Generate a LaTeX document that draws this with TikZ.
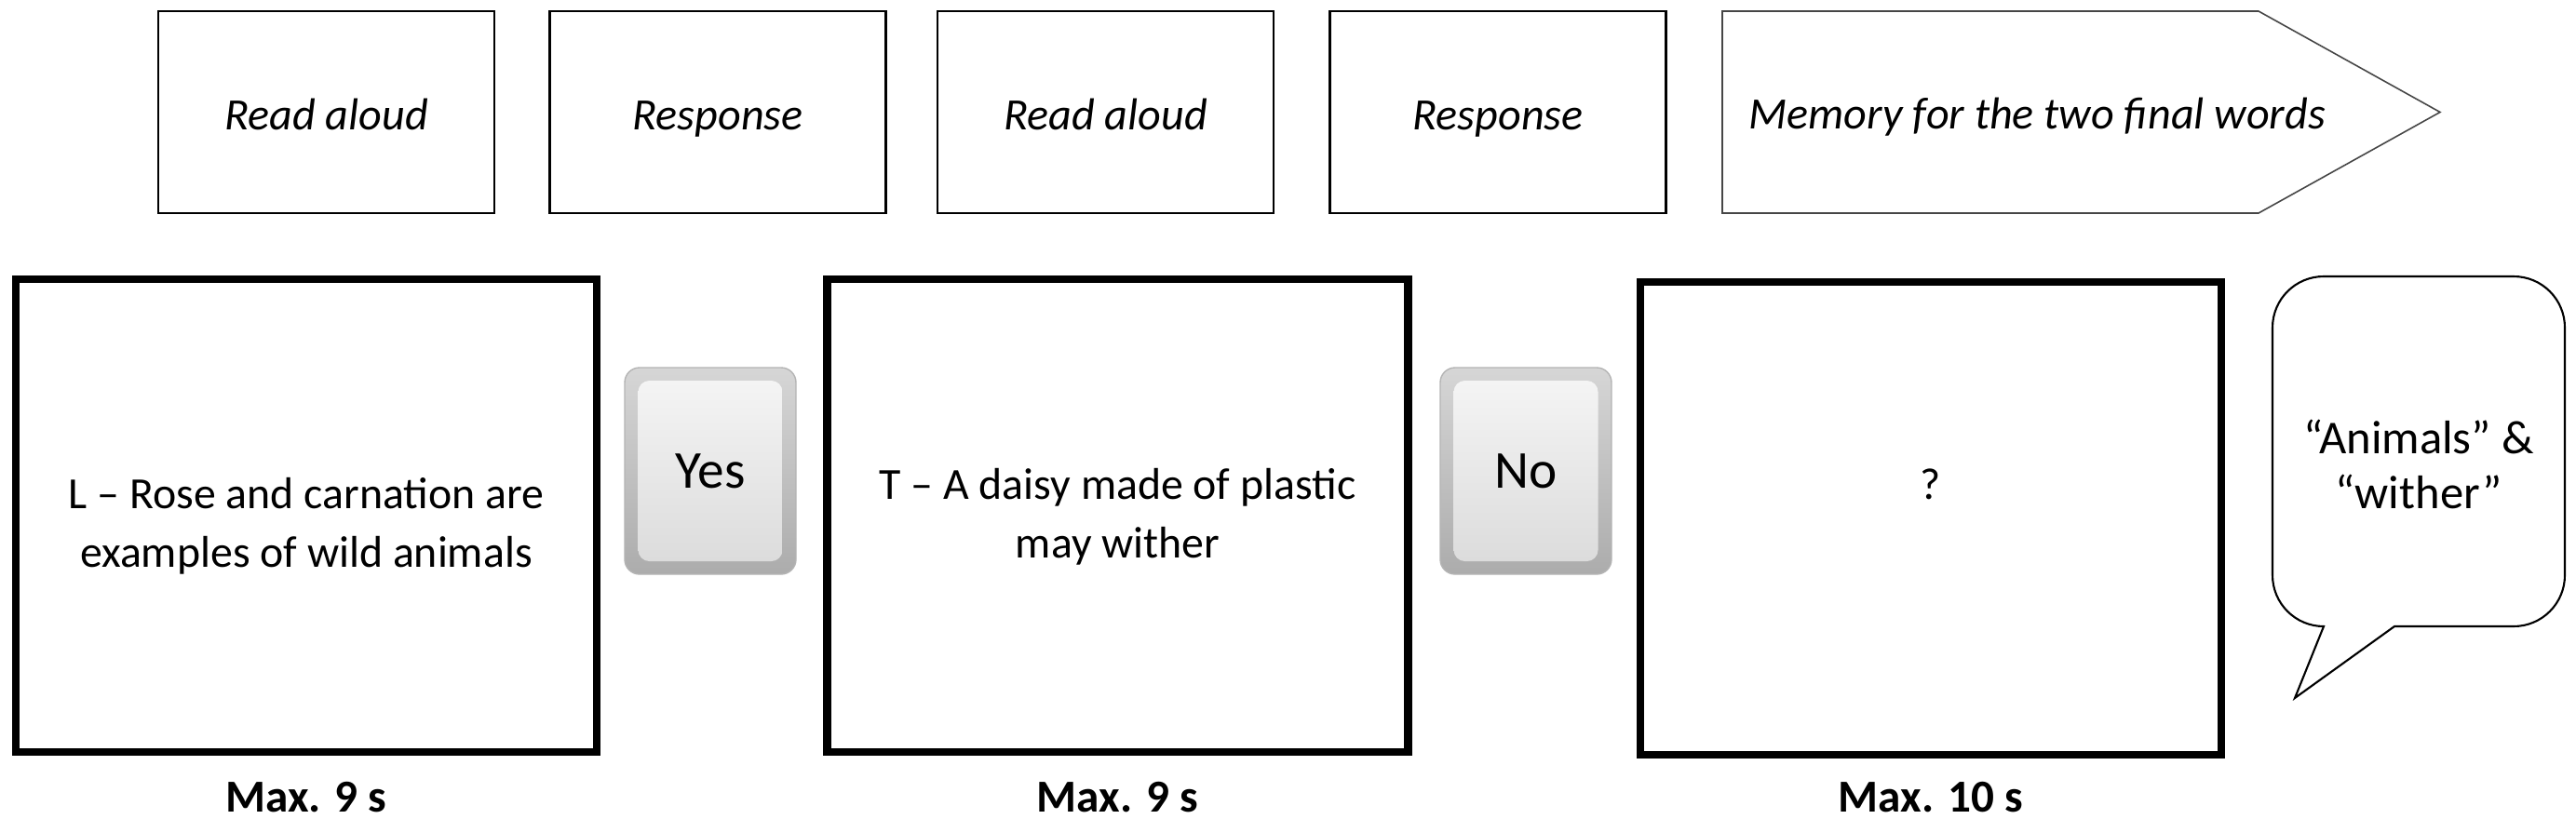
\documentclass[tikz,border=0pt]{standalone}
\usepackage{fontspec}
\setmainfont{Carlito}
\usepackage{tikz}
\usetikzlibrary{positioning, calc}
\definecolor{keyrimtop}{RGB}{214,214,214}
\definecolor{keyrimbot}{RGB}{172,172,172}
\definecolor{keyfacetop}{RGB}{244,244,244}
\definecolor{keyfacebot}{RGB}{220,220,220}
\definecolor{pointerline}{RGB}{70,70,70}

\begin{document}
\begin{tikzpicture}[
    phase/.style={draw, line width=0.6pt, minimum width=3.61cm, minimum height=2.17cm, inner sep=0pt, text height=0.42cm, text depth=0.05cm, font=\fontsize{13.7}{16}\selectfont\itshape},
    screen/.style={draw, line width=2.3pt, minimum width=6.24cm, minimum height=5.08cm, inner sep=0pt},
    stim/.style={align=center, inner sep=0pt, font=\fontsize{13.6}{17.8}\selectfont},
    keybase/.style={draw=keyrimbot!90, rounded corners=0.16cm, top color=keyrimtop, bottom color=keyrimbot, minimum width=1.84cm, minimum height=2.22cm, inner sep=0pt},
    keyface/.style={rounded corners=0.12cm, top color=keyfacetop, bottom color=keyfacebot, minimum width=1.55cm, minimum height=1.94cm, inner sep=0pt, font=\fontsize{16.3}{19}\selectfont},
    timing/.style={anchor=base, inner sep=0pt, font=\fontsize{14}{17}\selectfont\bfseries}
]
    \useasboundingbox (0,0) rectangle (27.67,8.79);

    % Phases
    \node[phase] (p1) at (3.505,7.585) {Read aloud};
    \node[phase] (p2) at (7.71,7.585) {Response};
    \node[phase] (p3) at (11.875,7.585) {Read aloud};
    \node[phase] (p4) at (16.09,7.585) {Response};
    \draw[pointerline, line width=0.45pt] (18.50,8.67) -- (24.26,8.67) -- (26.21,7.585) -- (24.26,6.50) -- (18.50,6.50) -- cycle;
    \node[anchor=base west, inner sep=0pt, font=\fontsize{13.7}{16}\selectfont\itshape] (p5) at (18.78,7.41) {Memory for the two final words};

    % Screens
    \node[screen] (s1) at (3.29,3.25) {};
    \node[screen] (s2) at (12.005,3.25) {};
    \node[screen] (s3) at (20.74,3.22) {};
    \node[stim] (s1text) at ($(s1)+(0,-0.11)$) {L – Rose and carnation are\\examples of wild animals};
    \node[stim] (s2text) at ($(s2)+(0,-0.01)$) {T – A daisy made of plastic\\may wither};
    \node[stim] (s3text) at ($(s3)+(0,0.37)$) {?};

    % Keys
    \node[keybase] (k1) at (7.63,3.73) {};
    \node[keyface] (k1face) at (k1) {Yes};
    \node[keybase] (k2) at (16.39,3.73) {};
    \node[keyface] (k2face) at (k2) {No};

    % Recall bubble
    \draw[line width=0.6pt] (24.96,5.82) -- (27.00,5.82) arc[start angle=90, end angle=0, radius=0.55]
        -- (27.55,2.61) arc[start angle=0, end angle=-90, radius=0.55]
        -- (25.72,2.06) -- (24.65,1.29) -- (24.96,2.06)
        arc[start angle=-90, end angle=-180, radius=0.55] -- (24.41,5.27)
        arc[start angle=180, end angle=90, radius=0.55] -- cycle;
    \node[align=center, inner sep=0pt, font=\fontsize{14.4}{16.8}\selectfont] (recall) at (25.98,3.80) {“Animals” \&\\“wither”};

    % Timing
    \node[timing] (t1) at ($(s1.south)+(0,-0.60)$) {Max. 9 s};
    \node[timing] (t2) at ($(s2.south)+(0,-0.60)$) {Max. 9 s};
    \node[timing] (t3) at ($(s3.south)+(0,-0.57)$) {Max. 10 s};
\end{tikzpicture}
\end{document}
